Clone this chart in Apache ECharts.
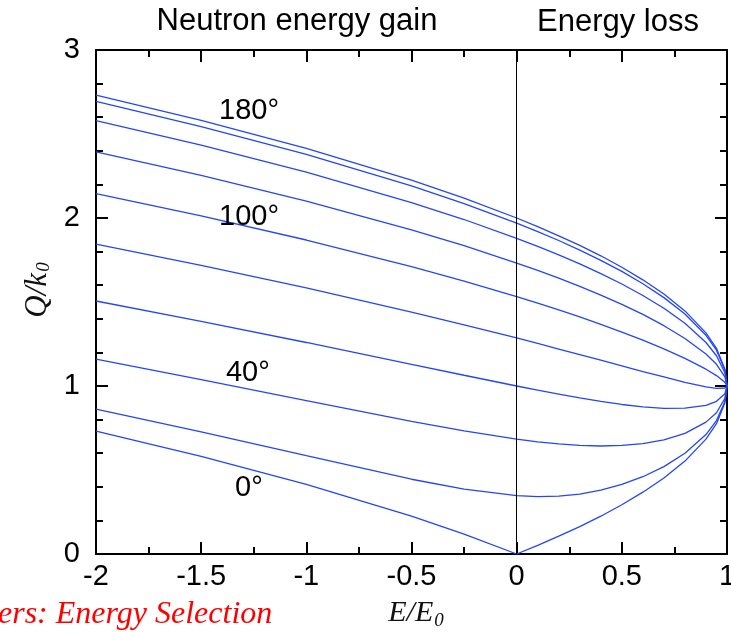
<!DOCTYPE html>
<html>
<head>
<meta charset="utf-8">
<script src="https://cdn.jsdelivr.net/npm/echarts@6/dist/echarts.min.js"></script>
<style>
  html, body { margin: 0; padding: 0; background: #fff; }
  #chart { width: 731px; height: 632px; }
</style>
</head>
<body>
<div id="chart"></div>
<script>
// E/E0 sample positions
const xs = [-2, -1.5, -1, -0.5, -0.25, 0, 0.1, 0.2, 0.3, 0.4, 0.5, 0.6, 0.7, 0.8, 0.9, 0.95, 0.99, 1];

// Q/k0 for each scattering angle (0° .. 180°, step 20°)
const q0   = [0.732, 0.581, 0.414, 0.225, 0.118, 0, 0.051, 0.106, 0.163, 0.225, 0.293, 0.368, 0.452, 0.553, 0.684, 0.776, 0.9, 1];
const q20  = [0.863, 0.727, 0.585, 0.445, 0.386, 0.347, 0.342, 0.345, 0.357, 0.380, 0.414, 0.460, 0.520, 0.600, 0.711, 0.794, 0.907, 1];
const q40  = [1.160, 1.038, 0.913, 0.790, 0.733, 0.684, 0.668, 0.656, 0.647, 0.643, 0.646, 0.657, 0.679, 0.718, 0.785, 0.841, 0.926, 1];
const q60  = [1.506, 1.385, 1.259, 1.129, 1.064, 1.000, 0.975, 0.952, 0.929, 0.909, 0.890, 0.876, 0.867, 0.868, 0.885, 0.909, 0.954, 1];
const q80  = [1.844, 1.718, 1.584, 1.440, 1.364, 1.286, 1.253, 1.220, 1.187, 1.154, 1.120, 1.086, 1.054, 1.022, 0.995, 0.986, 0.988, 1];
const q100 = [2.145, 2.012, 1.869, 1.710, 1.624, 1.532, 1.493, 1.453, 1.411, 1.367, 1.321, 1.273, 1.221, 1.164, 1.100, 1.062, 1.022, 1];
const q120 = [2.394, 2.254, 2.101, 1.930, 1.835, 1.732, 1.688, 1.642, 1.593, 1.541, 1.486, 1.426, 1.359, 1.283, 1.190, 1.129, 1.054, 1];
const q140 = [2.580, 2.434, 2.273, 2.092, 1.991, 1.879, 1.831, 1.781, 1.727, 1.669, 1.607, 1.539, 1.463, 1.373, 1.259, 1.180, 1.079, 1];
const q160 = [2.694, 2.544, 2.379, 2.191, 2.086, 1.970, 1.919, 1.866, 1.809, 1.748, 1.682, 1.609, 1.526, 1.429, 1.302, 1.213, 1.095, 1];
const q180 = [2.732, 2.581, 2.414, 2.225, 2.118, 2.000, 1.949, 1.894, 1.837, 1.775, 1.707, 1.632, 1.548, 1.447, 1.316, 1.224, 1.100, 1];

const curves = [q0, q20, q40, q60, q80, q100, q120, q140, q160, q180];

// angle labels inside the plot
const angleNames = ['180°', '100°', '40°', '0°'];
const angleX = [-1.415, -1.415, -1.382, -1.339];
const angleY = [2.637, 2.006, 1.077, 0.393];

const blue = '#2446f5';
const sans = 'Liberation Sans, Arial, Helvetica, sans-serif';
const serif = 'Liberation Serif, Times New Roman, serif';

const chart = echarts.init(document.getElementById('chart'), null, { renderer: 'canvas' });

// 共用的坐标轴样式（刻度朝内，带次刻度）
function frameAxis(opts) {
  return Object.assign({
    type: 'value',
    axisLine: { show: true, onZero: false, lineStyle: { color: '#000', width: 2 } },
    axisTick: { show: true, inside: true, length: 12, lineStyle: { color: '#000', width: 2 } },
    splitLine: { show: false },
    minorSplitLine: { show: false },
    axisLabel: { show: false }
  }, opts);
}

const lineSeries = curves.map((q, k) => ({
  type: 'line',
  name: (k * 20) + '°',
  xAxisIndex: 0,
  yAxisIndex: 0,
  data: xs.map((x, i) => [x, q[i]]),
  showSymbol: false,
  symbol: 'none',
  smooth: false,
  lineStyle: { color: blue, width: 1.3 },
  z: 3,
  markLine: k === 0 ? {
    silent: true,
    symbol: 'none',
    label: { show: false },
    lineStyle: { color: '#000', width: 1, type: 'solid' },
    data: [{ xAxis: 0 }]
  } : undefined
}));

chart.setOption({
  animation: false,
  backgroundColor: '#fff',
  grid: { left: 96, right: 4, top: 50, bottom: 78, containLabel: false, outerBoundsMode: 'none' },
  xAxis: [
    frameAxis({
      position: 'bottom', min: -2, max: 1, interval: 0.5,
      minorTick: { show: true, splitNumber: 2, length: 7, lineStyle: { color: '#000', width: 2 } },
      axisLabel: { show: true, color: '#000', fontSize: 29, fontFamily: sans, margin: 8 }
    }),
    frameAxis({
      position: 'top', min: -2, max: 1, interval: 0.5,
      minorTick: { show: true, splitNumber: 2, length: 7, lineStyle: { color: '#000', width: 2 } }
    })
  ],
  yAxis: [
    frameAxis({
      position: 'left', min: 0, max: 3, interval: 1,
      minorTick: { show: true, splitNumber: 5, length: 7, lineStyle: { color: '#000', width: 2 } },
      axisLabel: { show: true, color: '#000', fontSize: 29, fontFamily: sans, margin: 16 }
    }),
    frameAxis({
      position: 'right', min: 0, max: 3, interval: 1,
      minorTick: { show: true, splitNumber: 5, length: 7, lineStyle: { color: '#000', width: 2 } }
    })
  ],
  graphic: [
    { type: 'text', x: 297, y: 21, style: { text: 'Neutron energy gain', fill: '#000', font: '31px ' + sans, textAlign: 'center', textVerticalAlign: 'middle' } },
    { type: 'text', x: 618, y: 22, style: { text: 'Energy loss', fill: '#000', font: '31px ' + sans, textAlign: 'center', textVerticalAlign: 'middle' } },
    {
      type: 'text', x: 38, y: 290, rotation: Math.PI / 2,
      style: {
        text: '{m|Q/k}{s|0}',
        textAlign: 'center', textVerticalAlign: 'middle',
        rich: {
          m: { font: 'italic 31px ' + serif, fill: '#111' },
          s: { font: 'italic 19px ' + serif, fill: '#111', padding: [12, 0, 0, 1] }
        }
      }
    },
    {
      type: 'text', x: 416, y: 613,
      style: {
        text: '{m|E/E}{s|0}',
        textAlign: 'center', textVerticalAlign: 'middle',
        rich: {
          m: { font: 'italic 30px ' + serif, fill: '#111' },
          s: { font: 'italic 19px ' + serif, fill: '#111', padding: [15, 0, 0, 1] }
        }
      }
    },
    { type: 'text', x: -2, y: 615, style: { text: 'ers: Energy Selection', fill: '#ff0000', font: 'italic 32px ' + serif, textAlign: 'left', textVerticalAlign: 'middle' } }
  ],
  series: lineSeries.concat([{
    type: 'scatter',
    xAxisIndex: 0,
    yAxisIndex: 0,
    symbolSize: 0,
    silent: true,
    z: 4,
    itemStyle: { opacity: 1 },
    data: angleNames.map((n, i) => ({ value: [angleX[i], angleY[i]], name: n })),
    label: {
      show: true, position: 'right', distance: 0, opacity: 1,
      formatter: p => p.name,
      color: '#000', fontSize: 29, fontFamily: sans
    }
  }])
});
</script>
</body>
</html>
